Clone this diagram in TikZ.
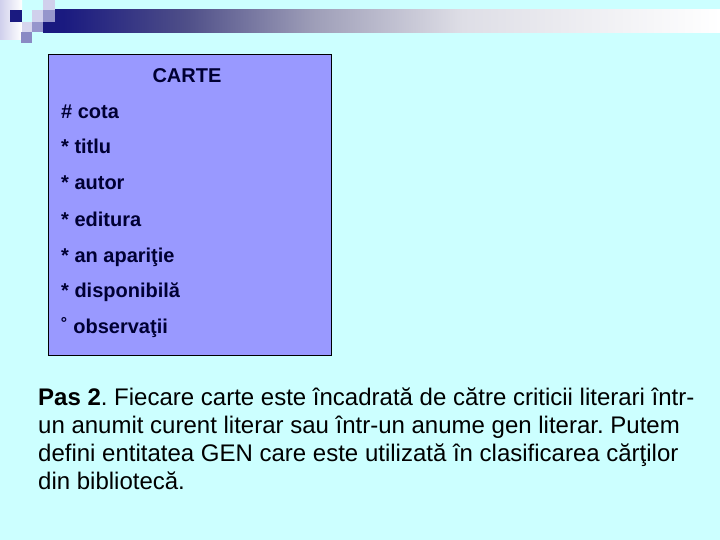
\documentclass[tikz,border=0pt]{standalone}
\usepackage{fontspec}
\setmainfont{Liberation Sans}
\usepackage{xcolor}
\usetikzlibrary{positioning}

\definecolor{slidebg}{RGB}{204,255,255}
\definecolor{boxfill}{RGB}{153,153,255}
\definecolor{boxink}{RGB}{0,0,51}
\definecolor{navy}{RGB}{26,26,128}
\definecolor{barq}{RGB}{78,78,136}
\definecolor{barmid}{RGB}{158,158,184}
\definecolor{barlight}{RGB}{222,222,230}
\definecolor{lavlight}{RGB}{208,208,236}
\definecolor{lavmid}{RGB}{150,150,204}
\definecolor{lavpale}{RGB}{214,214,238}

% stops between 25bp and 75bp cover the filled path
\pgfdeclarehorizontalshading{barshade}{100bp}{
  color(0bp)=(navy); color(26.5bp)=(navy); color(35.5bp)=(barq); color(45bp)=(barmid);
  color(56bp)=(barlight); color(75bp)=(white); color(100bp)=(white)}
\pgfdeclarehorizontalshading{stripshade}{100bp}{
  color(0bp)=(lavlight); color(25bp)=(lavlight); color(75bp)=(white); color(100bp)=(white)}

\tikzset{
boxline/.style={font=\fontsize{20}{22}\selectfont\bfseries, text=boxink,
    inner sep=0pt, anchor=base west},
parline/.style={font=\fontsize{24}{28}\selectfont, inner sep=0pt, anchor=base west}}

\begin{document}
\frenchspacing
\begin{tikzpicture}[x=1pt,y=-1pt]
		\useasboundingbox (0,0) rectangle (720,540);
		\fill[slidebg] (0,0) rectangle (720,540);

		% title bar and corner squares
		\shade[shading=barshade] (43,10) rectangle (720,33);
		\shade[shading=stripshade] (0,0) rectangle (22,40);
		\fill[navy] (10,10) rectangle (22,22);
		\fill[lavlight] (43,0) rectangle (55,10);
		\fill[lavlight] (32,10) rectangle (43,22);
		\fill[lavmid] (43,10) rectangle (55,22);
		\fill[lavpale] (22,22) rectangle (32,32);
		\fill[lavmid] (32,22) rectangle (43,32);
		\fill[lavmid!90!navy] (21,32) rectangle (32,43);

		% entity box
		\node[draw=black, fill=boxfill, line width=0.8pt, minimum width=283, minimum height=301,
		  inner sep=0pt, anchor=north west] (carte) at (48,54) {};
		\node[boxline, anchor=base] (title) at (187,83) {CARTE};
		\node[boxline] (cota) at (61,118.5) {\# cota};
		\node[boxline] (titlu) at (61,154) {* titlu};
		\node[boxline] (autor) at (61,190) {* autor};
		\node[boxline] (editura) at (61,226) {* editura};
		\node[boxline] (aparitie) at (61,262) {* an apariţie};
		\node[boxline] (disponibila) at (61,297.5) {* disponibilă};
		\node[boxline] (observatii) at (61,333) {˚ observaţii};

		% paragraph
		\node[parline] (par1) at (38,405) {\textbf{Pas 2}. Fiecare carte este încadrată de către criticii literari într-};
		\node[parline] (par2) at (38,433) {un anumit curent literar sau într-un anume gen literar. Putem};
		\node[parline] (par3) at (38,461) {defini entitatea GEN care este utilizată în clasificarea cărţilor};
		\node[parline] (par4) at (38,489) {din bibliotecă.};
	\end{tikzpicture}
\end{document}
